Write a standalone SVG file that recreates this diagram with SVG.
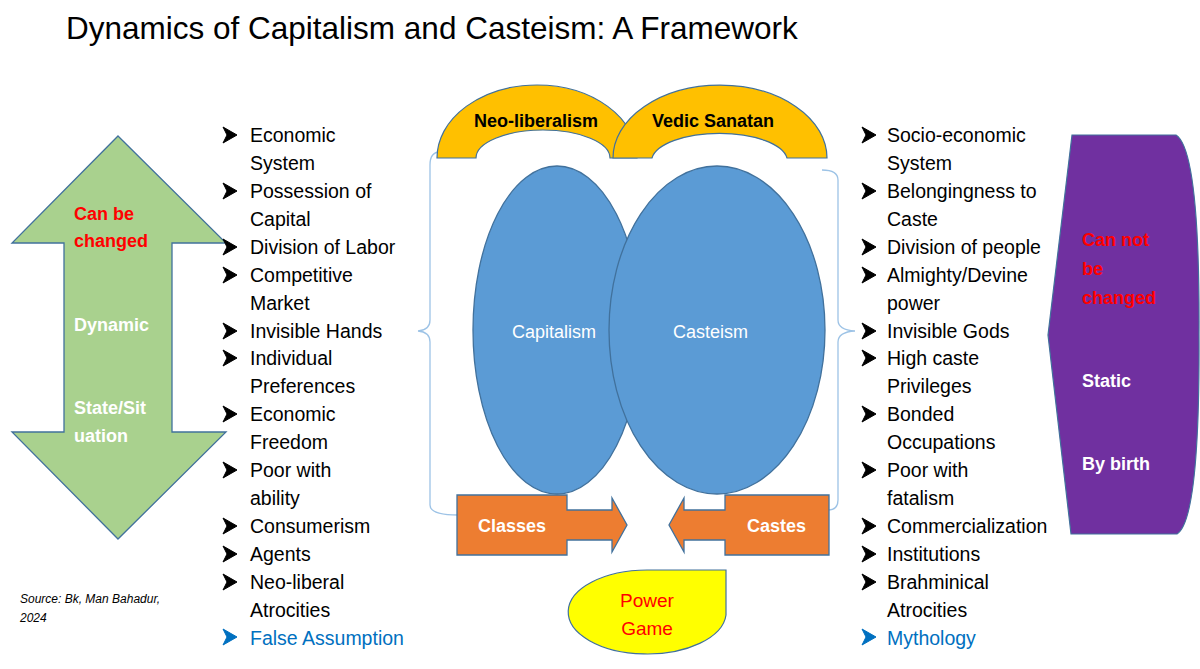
<svg xmlns="http://www.w3.org/2000/svg" width="1200" height="669" viewBox="0 0 1200 669">
<style>
text{font-family:"Liberation Sans",Arial,sans-serif}
.li{font-size:19.5px;fill:#000}
.bl{fill:#0070c0}
.b{font-weight:bold}
.ln{fill:none;stroke:#9dc3e6;stroke-width:1.3}
.sh{stroke:#41719c;stroke-width:1.3}
</style>
<defs>
<path id="bu" d="M0,-8 L14,0 L0,8 L4,0 Z" fill="#000" stroke="#000" stroke-width="1" stroke-linejoin="round"/>
<path id="bb" d="M0,-8 L14,0 L0,8 L4,0 Z" fill="#0070c0" stroke="#0070c0" stroke-width="1" stroke-linejoin="round"/>
</defs>
<rect width="1200" height="669" fill="#fff"/>
<text x="66" y="39" font-size="31.5">Dynamics of Capitalism and Casteism: A Framework</text>

<g id="connectors">
<path class="ln" d="M440,152 Q430,152 430,165 L430,320 Q430,330 418,331 Q430,332 430,342 L430,505 Q430,515 458,515"/>
<path class="ln" d="M822,170 Q838,170 838,180 L838,320 Q838,330 855,331 Q838,332 838,342 L838,500 Q838,510 828,510"/>
</g>

<g id="arrow-left">
<path d="M118,136 L226,243 L172,243 L172,432 L226,432 L118,539 L12,432 L64,432 L64,243 L12,243 Z" fill="#a9d18e" class="sh"/>
<text x="74" y="220" font-size="18" class="b" fill="#ff0000">Can be</text>
<text x="74" y="247" font-size="18" class="b" fill="#ff0000">changed</text>
<text x="74" y="331" font-size="18" class="b" fill="#fff">Dynamic</text>
<text x="74" y="414" font-size="18" class="b" fill="#fff">State/Sit</text>
<text x="74" y="442" font-size="18" class="b" fill="#fff">uation</text>
</g>

<g id="left-list" class="li">
<use href="#bu" x="223" y="135"/><text x="250" y="142">Economic</text><text x="250" y="170">System</text>
<use href="#bu" x="223" y="191"/><text x="250" y="198">Possession of</text><text x="250" y="226">Capital</text>
<use href="#bu" x="223" y="247"/><text x="250" y="254">Division of Labor</text>
<use href="#bu" x="223" y="275"/><text x="250" y="282">Competitive</text><text x="250" y="310">Market</text>
<use href="#bu" x="223" y="331"/><text x="250" y="338">Invisible Hands</text>
<use href="#bu" x="223" y="358"/><text x="250" y="365">Individual</text><text x="250" y="393">Preferences</text>
<use href="#bu" x="223" y="414"/><text x="250" y="421">Economic</text><text x="250" y="449">Freedom</text>
<use href="#bu" x="223" y="470"/><text x="250" y="477">Poor with</text><text x="250" y="505">ability</text>
<use href="#bu" x="223" y="526"/><text x="250" y="533">Consumerism</text>
<use href="#bu" x="223" y="554"/><text x="250" y="561">Agents</text>
<use href="#bu" x="223" y="582"/><text x="250" y="589">Neo-liberal</text><text x="250" y="617">Atrocities</text>
<use href="#bb" x="223" y="637"/><text x="250" y="645" class="bl">False Assumption</text>
</g>

<g id="arches">
<path d="M437,158 A100,73 0 0 1 637,158 L610,158 A67,28 0 0 0 476,158 Z" fill="#ffc000" stroke="#41719c" stroke-width="1.2"/>
<path d="M613,158 A107,73 0 0 1 827,158 L787,158 A68,28 0 0 0 652,158 Z" fill="#ffc000" stroke="#41719c" stroke-width="1.2"/>
<text x="474" y="127" font-size="18" class="b">Neo-liberalism</text>
<text x="652" y="127" font-size="18" class="b">Vedic Sanatan</text>
</g>

<g id="ellipses">
<ellipse cx="557" cy="330" rx="84" ry="164" fill="#5b9bd5" class="sh"/>
<ellipse cx="717" cy="330" rx="108" ry="164" fill="#5b9bd5" class="sh"/>
<text x="512" y="338" font-size="18" fill="#fff">Capitalism</text>
<text x="673" y="338" font-size="18" fill="#fff">Casteism</text>
</g>

<g id="classes">
<path d="M457,495 L567,495 L567,510 L612,510 L612,498 L627,525 L612,552 L612,540 L567,540 L567,555 L457,555 Z" fill="#ed7d31" class="sh"/>
<text x="478" y="532" font-size="18" class="b" fill="#fff">Classes</text>
</g>
<g id="castes">
<path d="M829,495 L725,495 L725,510 L684,510 L684,498 L669,525 L684,552 L684,540 L725,540 L725,555 L829,555 Z" fill="#ed7d31" class="sh"/>
<text x="747" y="532" font-size="18" class="b" fill="#fff">Castes</text>
</g>

<g id="power-game">
<path d="M726,570 L726,615 A79,42 0 1 1 647,570 Z" fill="#ffff00" stroke="#41719c" stroke-width="1.2"/>
<text x="647" y="607" font-size="19" fill="#ff0000" text-anchor="middle">Power</text>
<text x="647" y="635" font-size="19" fill="#ff0000" text-anchor="middle">Game</text>
</g>

<g id="right-list" class="li">
<use href="#bu" x="862" y="135"/><text x="887" y="142">Socio-economic</text><text x="887" y="170">System</text>
<use href="#bu" x="862" y="191"/><text x="887" y="198">Belongingness to</text><text x="887" y="226">Caste</text>
<use href="#bu" x="862" y="247"/><text x="887" y="254">Division of people</text>
<use href="#bu" x="862" y="275"/><text x="887" y="282">Almighty/Devine</text><text x="887" y="310">power</text>
<use href="#bu" x="862" y="331"/><text x="887" y="338">Invisible Gods</text>
<use href="#bu" x="862" y="358"/><text x="887" y="365">High caste</text><text x="887" y="393">Privileges</text>
<use href="#bu" x="862" y="414"/><text x="887" y="421">Bonded</text><text x="887" y="449">Occupations</text>
<use href="#bu" x="862" y="470"/><text x="887" y="477">Poor with</text><text x="887" y="505">fatalism</text>
<use href="#bu" x="862" y="526"/><text x="887" y="533">Commercialization</text>
<use href="#bu" x="862" y="554"/><text x="887" y="561">Institutions</text>
<use href="#bu" x="862" y="582"/><text x="887" y="589">Brahminical</text><text x="887" y="617">Atrocities</text>
<use href="#bb" x="862" y="637"/><text x="887" y="645" class="bl">Mythology</text>
</g>

<g id="static-shape">
<path d="M1072,135 L1176,135 Q1200,150 1199,335 Q1200,520 1177,534 L1071,534 L1048,335 Z" fill="#7030a0" stroke="#41719c" stroke-width="1.2"/>
<text x="1082" y="246" font-size="18" class="b" fill="#ff0000">Can not</text>
<text x="1082" y="275" font-size="18" class="b" fill="#ff0000">be</text>
<text x="1082" y="304" font-size="18" class="b" fill="#ff0000">changed</text>
<text x="1082" y="387" font-size="18" class="b" fill="#fff">Static</text>
<text x="1082" y="470" font-size="18" class="b" fill="#fff">By birth</text>
</g>

<text x="20" y="603" font-size="12" font-style="italic">Source: Bk, Man Bahadur,</text>
<text x="20" y="622" font-size="12" font-style="italic">2024</text>
</svg>
